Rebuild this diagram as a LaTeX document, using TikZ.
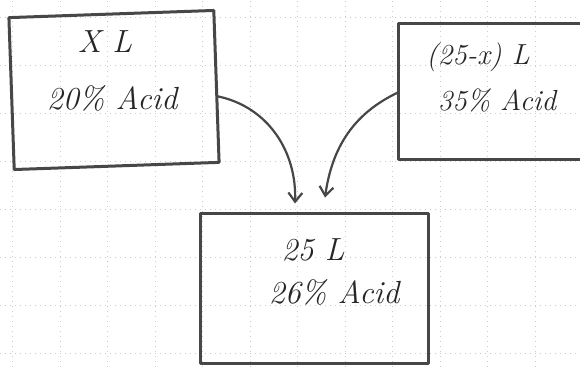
\documentclass[tikz,border=0pt]{standalone}
\usetikzlibrary{arrows.meta}
\begin{document}
\begin{tikzpicture}[x=1pt,y=1pt,
  gridline/.style={gray!40, line width=0.6pt, dash pattern=on 1pt off 4pt},
  pencil/.style={draw=black!72, line width=3pt, line join=round},
  box/.style={pencil, rectangle, inner sep=0pt},
  hand/.style={font=\fontsize{32}{40}\selectfont\itshape, text=black!85, inner sep=0pt},
  flow/.style={black!72, line width=2.2pt,
    -{Straight Barb[length=9pt,width=14pt,line width=2.2pt]}}]
\useasboundingbox (0,0) rectangle (580,367);
\fill[white] (0,0) rectangle (580,367);
% graph paper
\foreach \i in {0,...,12} \draw[gridline] ({12.5+47.5*\i},0) -- ({12.5+47.5*\i},367);
\foreach \j in {0,...,7} \draw[gridline] (0,{367-17-48*\j}) -- (580,{367-17-48*\j});
% boxes
\node[box, minimum width=205pt, minimum height=152pt, rotate=2] (b1) at (114,277) {};
\node[box, minimum width=183pt, minimum height=136pt] (b2) at (490,275) {};
\node[box, minimum width=228pt, minimum height=150pt] (b3) at (314,79) {};
% texts
\node[hand] (t1a) at (105,325) {X L};
\node[hand] (t1b) at (112,269) {20\% Acid};
\node[hand, font=\fontsize{29}{36}\selectfont\itshape] (t2a) at (478,310) {(25-x) L};
\node[hand, font=\fontsize{29}{36}\selectfont\itshape] (t2b) at (497,267) {35\% Acid};
\node[hand] (t3a) at (313,117) {25 L};
\node[hand] (t3b) at (334,75) {26\% Acid};
% connectors
\draw[flow] ([yshift=-10pt]b1.east) to[out=-12, in=88] ([xshift=-19pt,yshift=8pt]b3.north);
\draw[flow] ([xshift=2pt]b2.west) to[out=205, in=82] ([xshift=11pt,yshift=14pt]b3.north);
\end{tikzpicture}
\end{document}
